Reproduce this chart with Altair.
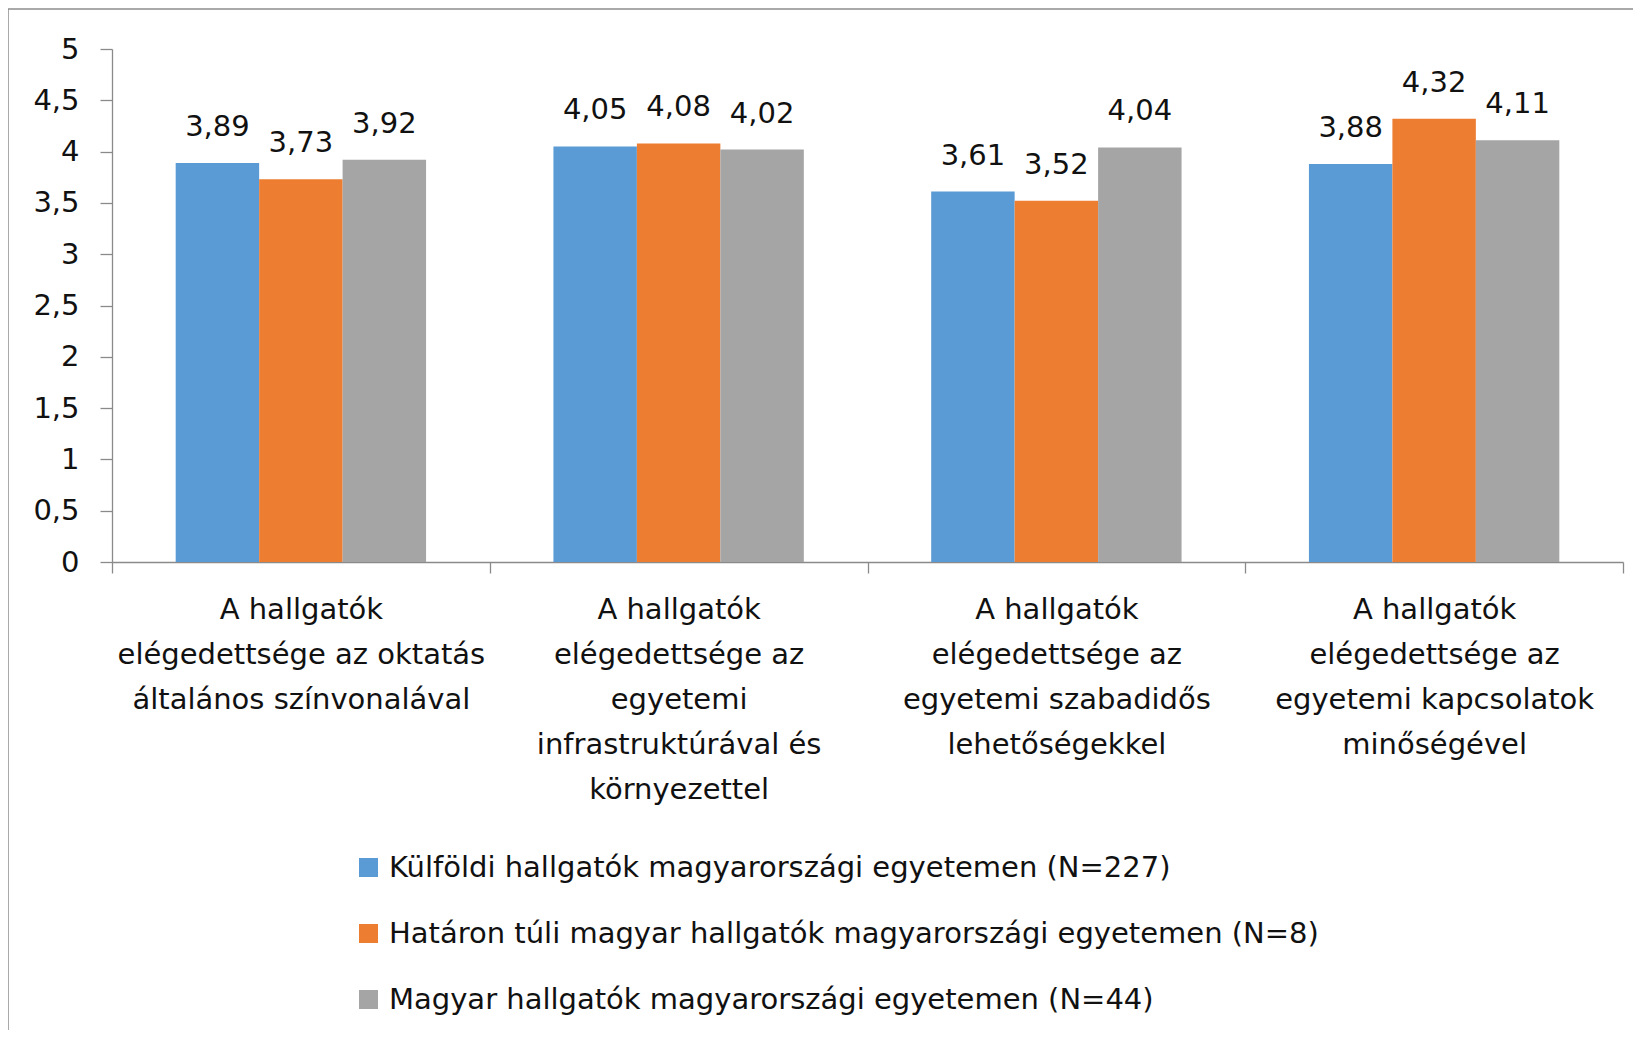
import altair as alt
import pandas as pd

category_lines = [
    ["A hallgatók", "elégedettsége az oktatás", "általános színvonalával"],
    ["A hallgatók", "elégedettsége az", "egyetemi", "infrastruktúrával és", "környezettel"],
    ["A hallgatók", "elégedettsége az", "egyetemi szabadidős", "lehetőségekkel"],
    ["A hallgatók", "elégedettsége az", "egyetemi kapcsolatok", "minőségével"],
]
categories = ["|".join(lines) for lines in category_lines]

series = [
    "Külföldi hallgatók magyarországi egyetemen (N=227)",
    "Határon túli magyar hallgatók magyarországi egyetemen (N=8)",
    "Magyar hallgatók magyarországi egyetemen (N=44)",
]
values_kulfoldi = [3.89, 4.05, 3.61, 3.88]
values_hataron = [3.73, 4.08, 3.52, 4.32]
values_magyar = [3.92, 4.02, 4.04, 4.11]
colors = ["#5B9BD5", "#ED7D31", "#A5A5A5"]
y_ticks = [0, 0.5, 1, 1.5, 2, 2.5, 3, 3.5, 4, 4.5, 5]

rows = []
for s, vals in zip(series, [values_kulfoldi, values_hataron, values_magyar]):
    for c, v in zip(categories, vals):
        rows.append({"cat": c, "series": s, "value": v,
                     "label": f"{v:.2f}".replace(".", ",")})
df = pd.DataFrame(rows)

FONT = "DejaVu Sans"
FS = 29
TXT = "#111111"
AX = "#8a8a8a"

x_enc = alt.X("cat:N", sort=categories,
              scale=alt.Scale(paddingInner=0, paddingOuter=0),
              axis=alt.Axis(title=None, labelAngle=0,
                            labelExpr="split(datum.label, '|')",
                            tickBand="extent", tickSize=11,
                            labelFontSize=FS, labelLineHeight=45.2,
                            labelPadding=22, labelBaseline="top",
                            labelAlign="center", labelLimit=0,
                            labelFont=FONT, labelColor=TXT,
                            domainColor=AX, tickColor=AX,
                            domainWidth=1.3, tickWidth=1.3))
xoff_enc = alt.XOffset("series:N", sort=series,
                       scale=alt.Scale(domain=series, paddingInner=0, paddingOuter=0.763))
y_enc = alt.Y("value:Q",
              scale=alt.Scale(domain=[0, 5], nice=False),
              axis=alt.Axis(title=None, values=y_ticks, grid=False,
                            labelExpr="replace(format(datum.value, '~g'), '.', ',')",
                            tickSize=12, labelPadding=21,
                            labelFontSize=FS, labelFont=FONT, labelColor=TXT,
                            domainColor=AX, tickColor=AX,
                            domainWidth=1.3, tickWidth=1.3))

base = alt.Chart(df)

bars = base.mark_bar().encode(
    x=x_enc, xOffset=xoff_enc, y=y_enc,
    color=alt.Color("series:N", sort=series,
                    scale=alt.Scale(domain=series, range=colors),
                    legend=alt.Legend(orient="none", legendX=242, legendY=804,
                                      direction="vertical", title=None,
                                      symbolType="square", symbolSize=361,
                                      symbolStrokeWidth=0,
                                      labelFontSize=FS, labelFont=FONT,
                                      labelColor=TXT, rowPadding=36,
                                      labelOffset=6, labelLimit=0)),
)

texts = base.mark_text(baseline="alphabetic", dy=-27, fontSize=FS,
                       font=FONT, color=TXT).encode(
    x=x_enc, xOffset=xoff_enc, y=y_enc, text="label:N")

dummy = alt.Chart(pd.DataFrame({"a": [0]}))
border_left = dummy.mark_rule(color="#8c8c8c", strokeWidth=1.5).encode(
    x=alt.value(-104), y=alt.value(-40), y2=alt.value(1000))
border_top = dummy.mark_rule(color="#8c8c8c", strokeWidth=1.5).encode(
    x=alt.value(-104), x2=alt.value(1530), y=alt.value(-40))

chart = alt.layer(bars, texts, border_left, border_top).properties(
    width=1511, height=513,
    autosize=alt.AutoSizeParams(type="none"),
    padding={"left": 104, "top": 41, "right": 10, "bottom": 468},
).configure_view(stroke=None)

chart.save("out.html", embed_options={"renderer": "svg", "actions": False})
